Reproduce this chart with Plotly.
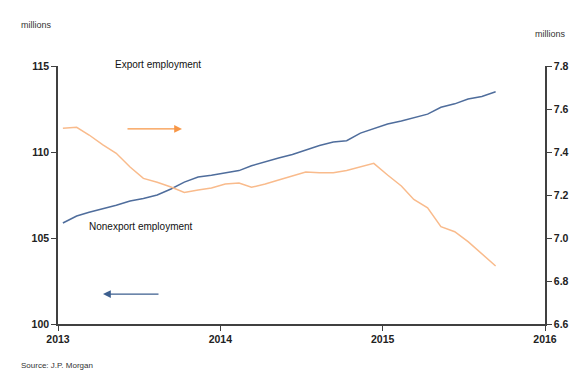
import plotly.graph_objects as go
import pandas as pd

dates = pd.date_range("2013-01-01", periods=33, freq="MS") + pd.Timedelta(days=11)
nonexport = [105.87, 106.28, 106.5, 106.7, 106.9, 107.15, 107.3, 107.5, 107.85, 108.25,
             108.55, 108.65, 108.78, 108.92, 109.2, 109.45, 109.65, 109.85, 110.1, 110.38,
             110.58, 110.66, 111.1, 111.34, 111.63, 111.8, 111.98, 112.2, 112.6, 112.8,
             113.08, 113.23, 113.5]
export = [7.510, 7.515, 7.479, 7.433, 7.394, 7.330, 7.277, 7.259, 7.237, 7.212,
          7.223, 7.233, 7.251, 7.256, 7.236, 7.251, 7.270, 7.288, 7.307, 7.304,
          7.304, 7.314, 7.330, 7.347, 7.293, 7.242, 7.179, 7.140, 7.053, 7.029,
          6.983, 6.926, 6.870]
left_ticks = [100, 105, 110, 115]
right_ticks = [6.6, 6.8, 7.0, 7.2, 7.4, 7.6, 7.8]
x_ticks = ["2013-01-01", "2014-01-01", "2015-01-01", "2016-01-01"]
x_labels = ["2013", "2014", "2015", "2016"]

BLUE = "#4f6d9c"
ORANGE = "#f9bb8c"
AX = "#404040"
FAM = "Liberation Sans Narrow, Arial Narrow, Liberation Sans, Arial"
TF = dict(family=FAM, size=10.5, color="#222222", weight="bold")
TXT = dict(family=FAM, size=10, color="#111111")
SMALL = dict(family=FAM, size=9, color="#333333")

fig = go.Figure()
fig.add_trace(go.Scatter(x=dates, y=nonexport, mode="lines", line=dict(color=BLUE, width=1.5),
                         name="Nonexport employment", yaxis="y"))
fig.add_trace(go.Scatter(x=dates, y=export, mode="lines", line=dict(color=ORANGE, width=1.5),
                         name="Export employment", yaxis="y2"))

fig.update_layout(
    width=587, height=383,
    margin=dict(l=50, r=50, t=58, b=67),
    paper_bgcolor="white", plot_bgcolor="white",
    showlegend=False,
    xaxis=dict(range=["2013-01-01", "2016-01-01"], tickvals=x_ticks, ticktext=x_labels,
               showgrid=False, zeroline=False, showline=True, linecolor=AX, linewidth=1.5,
               ticks="outside", ticklen=5, tickcolor=AX, tickfont=TF),
    yaxis=dict(range=[100, 115], tickvals=left_ticks, showgrid=False, zeroline=False,
               showline=True, linecolor=AX, linewidth=1.5, ticks="outside", ticklen=5,
               tickcolor=AX, tickfont=TF),
    yaxis2=dict(range=[6.6, 7.8], tickvals=right_ticks, tickformat=".1f", overlaying="y",
                side="right", showgrid=False, zeroline=False, showline=True, linecolor=AX,
                linewidth=1.5, ticks="outside", ticklen=5, tickcolor=AX, tickfont=TF),
)

anns = [
    dict(text="millions", x=-0.080, y=1.159, xanchor="left", yanchor="middle", font=SMALL),
    dict(text="millions", x=0.975, y=1.124, xanchor="left", yanchor="middle", font=SMALL),
    dict(text="Export employment", x=0.205, y=1.004, xanchor="center", yanchor="middle", font=TXT),
    dict(text="Nonexport employment", x=0.170, y=0.376, xanchor="center", yanchor="middle", font=TXT),
    dict(text="Source: J.P. Morgan", x=-0.080, y=-0.159, xanchor="left", yanchor="middle",
         font=dict(family=FAM, size=8, color="#333333")),
]
for a in anns:
    fig.add_annotation(xref="paper", yref="paper", showarrow=False, **a)

fig.add_annotation(xref="paper", yref="paper", x=0.2546, y=0.756, ax=-56, ay=0, text="",
                   showarrow=True, arrowhead=2, arrowsize=1.2, arrowwidth=1.3, arrowcolor="#f79646")
fig.add_annotation(xref="paper", yref="paper", x=0.0924, y=0.116, ax=57, ay=0, text="",
                   showarrow=True, arrowhead=2, arrowsize=1.2, arrowwidth=1.3, arrowcolor="#3d5f8f")

fig.write_html("out.html")
